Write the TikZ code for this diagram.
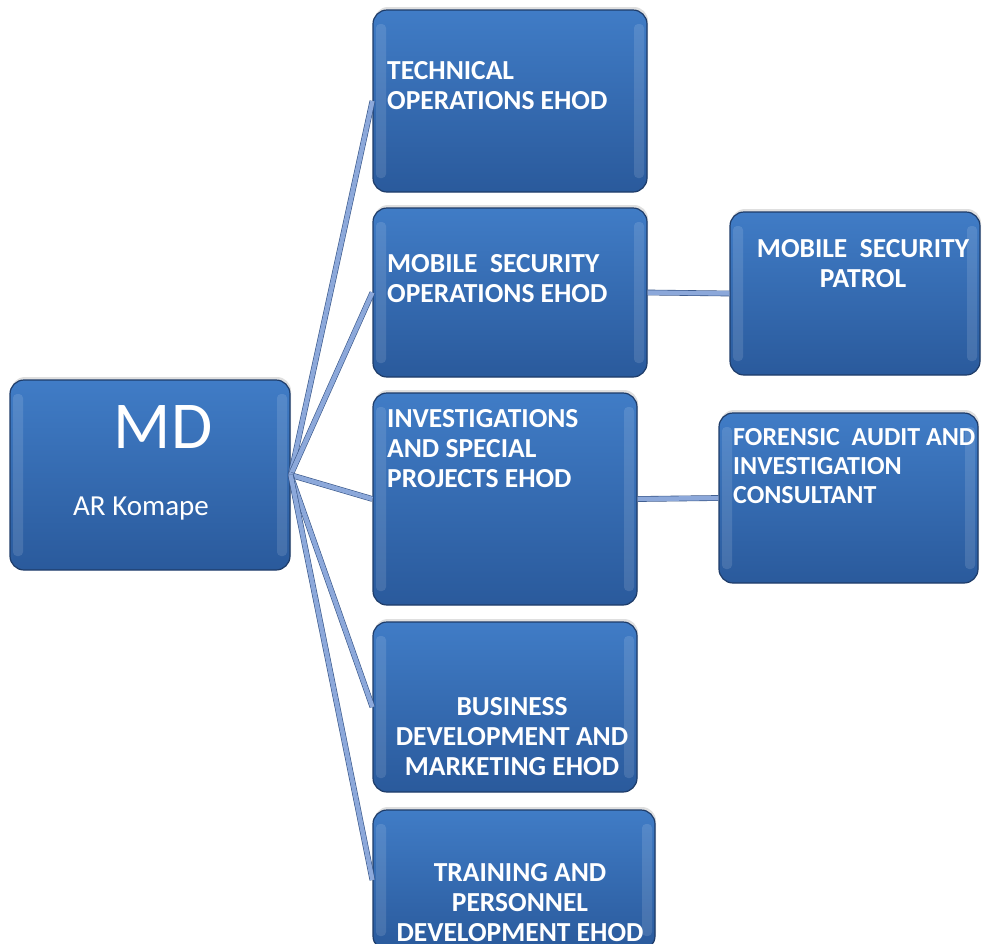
\documentclass[tikz,border=0pt]{standalone}
\usepackage{fontspec}
\setmainfont{Carlito}
\usetikzlibrary{shadows}

\definecolor{boxtop}{RGB}{64,124,198}
\definecolor{boxbot}{RGB}{42,90,156}
\definecolor{boxline}{RGB}{30,60,105}
\definecolor{linkfill}{RGB}{140,168,218}
\definecolor{linkline}{RGB}{55,85,135}

\tikzstyle{unit} = [rounded corners=14, draw=boxline, line width=1.2, top color=boxtop, bottom color=boxbot,
  drop shadow={opacity=.25, shadow xshift=1, shadow yshift=-3},
  path picture={
    \fill[white,opacity=.12,rounded corners=4] ([xshift=3,yshift=-14]path picture bounding box.north west) rectangle ([xshift=13,yshift=14]path picture bounding box.south west);
    \fill[white,opacity=.12,rounded corners=4] ([xshift=-13,yshift=-14]path picture bounding box.north east) rectangle ([xshift=-3,yshift=14]path picture bounding box.south east);
  }]
\tikzstyle{title} = [font={\fontsize{27.5}{30}\selectfont\bfseries}, text=white, inner sep=0]
\tikzstyle{link} = [draw=linkline, line width=0.6, double=linkfill, double distance=4.5]

\begin{document}
\begin{tikzpicture}[x=1pt,y=-1pt]
\useasboundingbox (0,0) rectangle (982,943);
\clip (0,0) rectangle (982,943);

\node [unit, minimum width=280, minimum height=190] (md) at (150,475) {};
\node [unit, minimum width=274, minimum height=182] (tech) at (510,101) {};
\node [unit, minimum width=274, minimum height=169] (mobile) at (510,292.5) {};
\node [unit, minimum width=264, minimum height=212] (invest) at (505,499) {};
\node [unit, minimum width=264, minimum height=170] (business) at (505,707) {};
\node [unit, minimum width=282, minimum height=140] (training) at (514,880) {};
\node [unit, minimum width=250, minimum height=163] (patrol) at (855,293.5) {};
\node [unit, minimum width=259, minimum height=170] (forensic) at (848.5,498) {};

\node [text=white, inner sep=0, anchor=north, font={\fontsize{67}{70}\selectfont}] (md-t) at (163,405) {MD};
\node [text=white, inner sep=0, anchor=north west, font={\fontsize{29}{32}\selectfont}] (md-n) at (73,497) {AR Komape};
\node [title, anchor=north west, align=left] (tech-t) at (387,61) {TECHNICAL\\OPERATIONS EHOD};
\node [title, anchor=north west, align=left] (mobile-t) at (387,254) {MOBILE\ \ SECURITY\\OPERATIONS EHOD};
\node [title, anchor=north west, align=left] (invest-t) at (387,409) {INVESTIGATIONS\\AND SPECIAL\\PROJECTS EHOD};
\node [title, anchor=north, align=center] (business-t) at (512,697) {BUSINESS\\DEVELOPMENT AND\\MARKETING EHOD};
\node [title, anchor=north, align=center] (training-t) at (520,863) {TRAINING AND\\PERSONNEL\\DEVELOPMENT EHOD};
\node [title, anchor=north, align=center] (patrol-t) at (863,239) {MOBILE\ \ SECURITY\\PATROL};
\node [title, anchor=north west, align=left, font={\fontsize{26}{29}\selectfont\bfseries}] (forensic-t) at (733,428) {FORENSIC\ \ AUDIT AND\\INVESTIGATION\\CONSULTANT};

\draw [link] (md.east) -- (tech.west);
\draw [link] (md.east) -- (mobile.west);
\draw [link] (md.east) -- (invest.west);
\draw [link] (md.east) -- (business.west);
\draw [link] (md.east) -- (training.west);
\draw [link] (mobile.east) -- (patrol.west);
\draw [link] (invest.east) -- (forensic.west);
\end{tikzpicture}
\end{document}
